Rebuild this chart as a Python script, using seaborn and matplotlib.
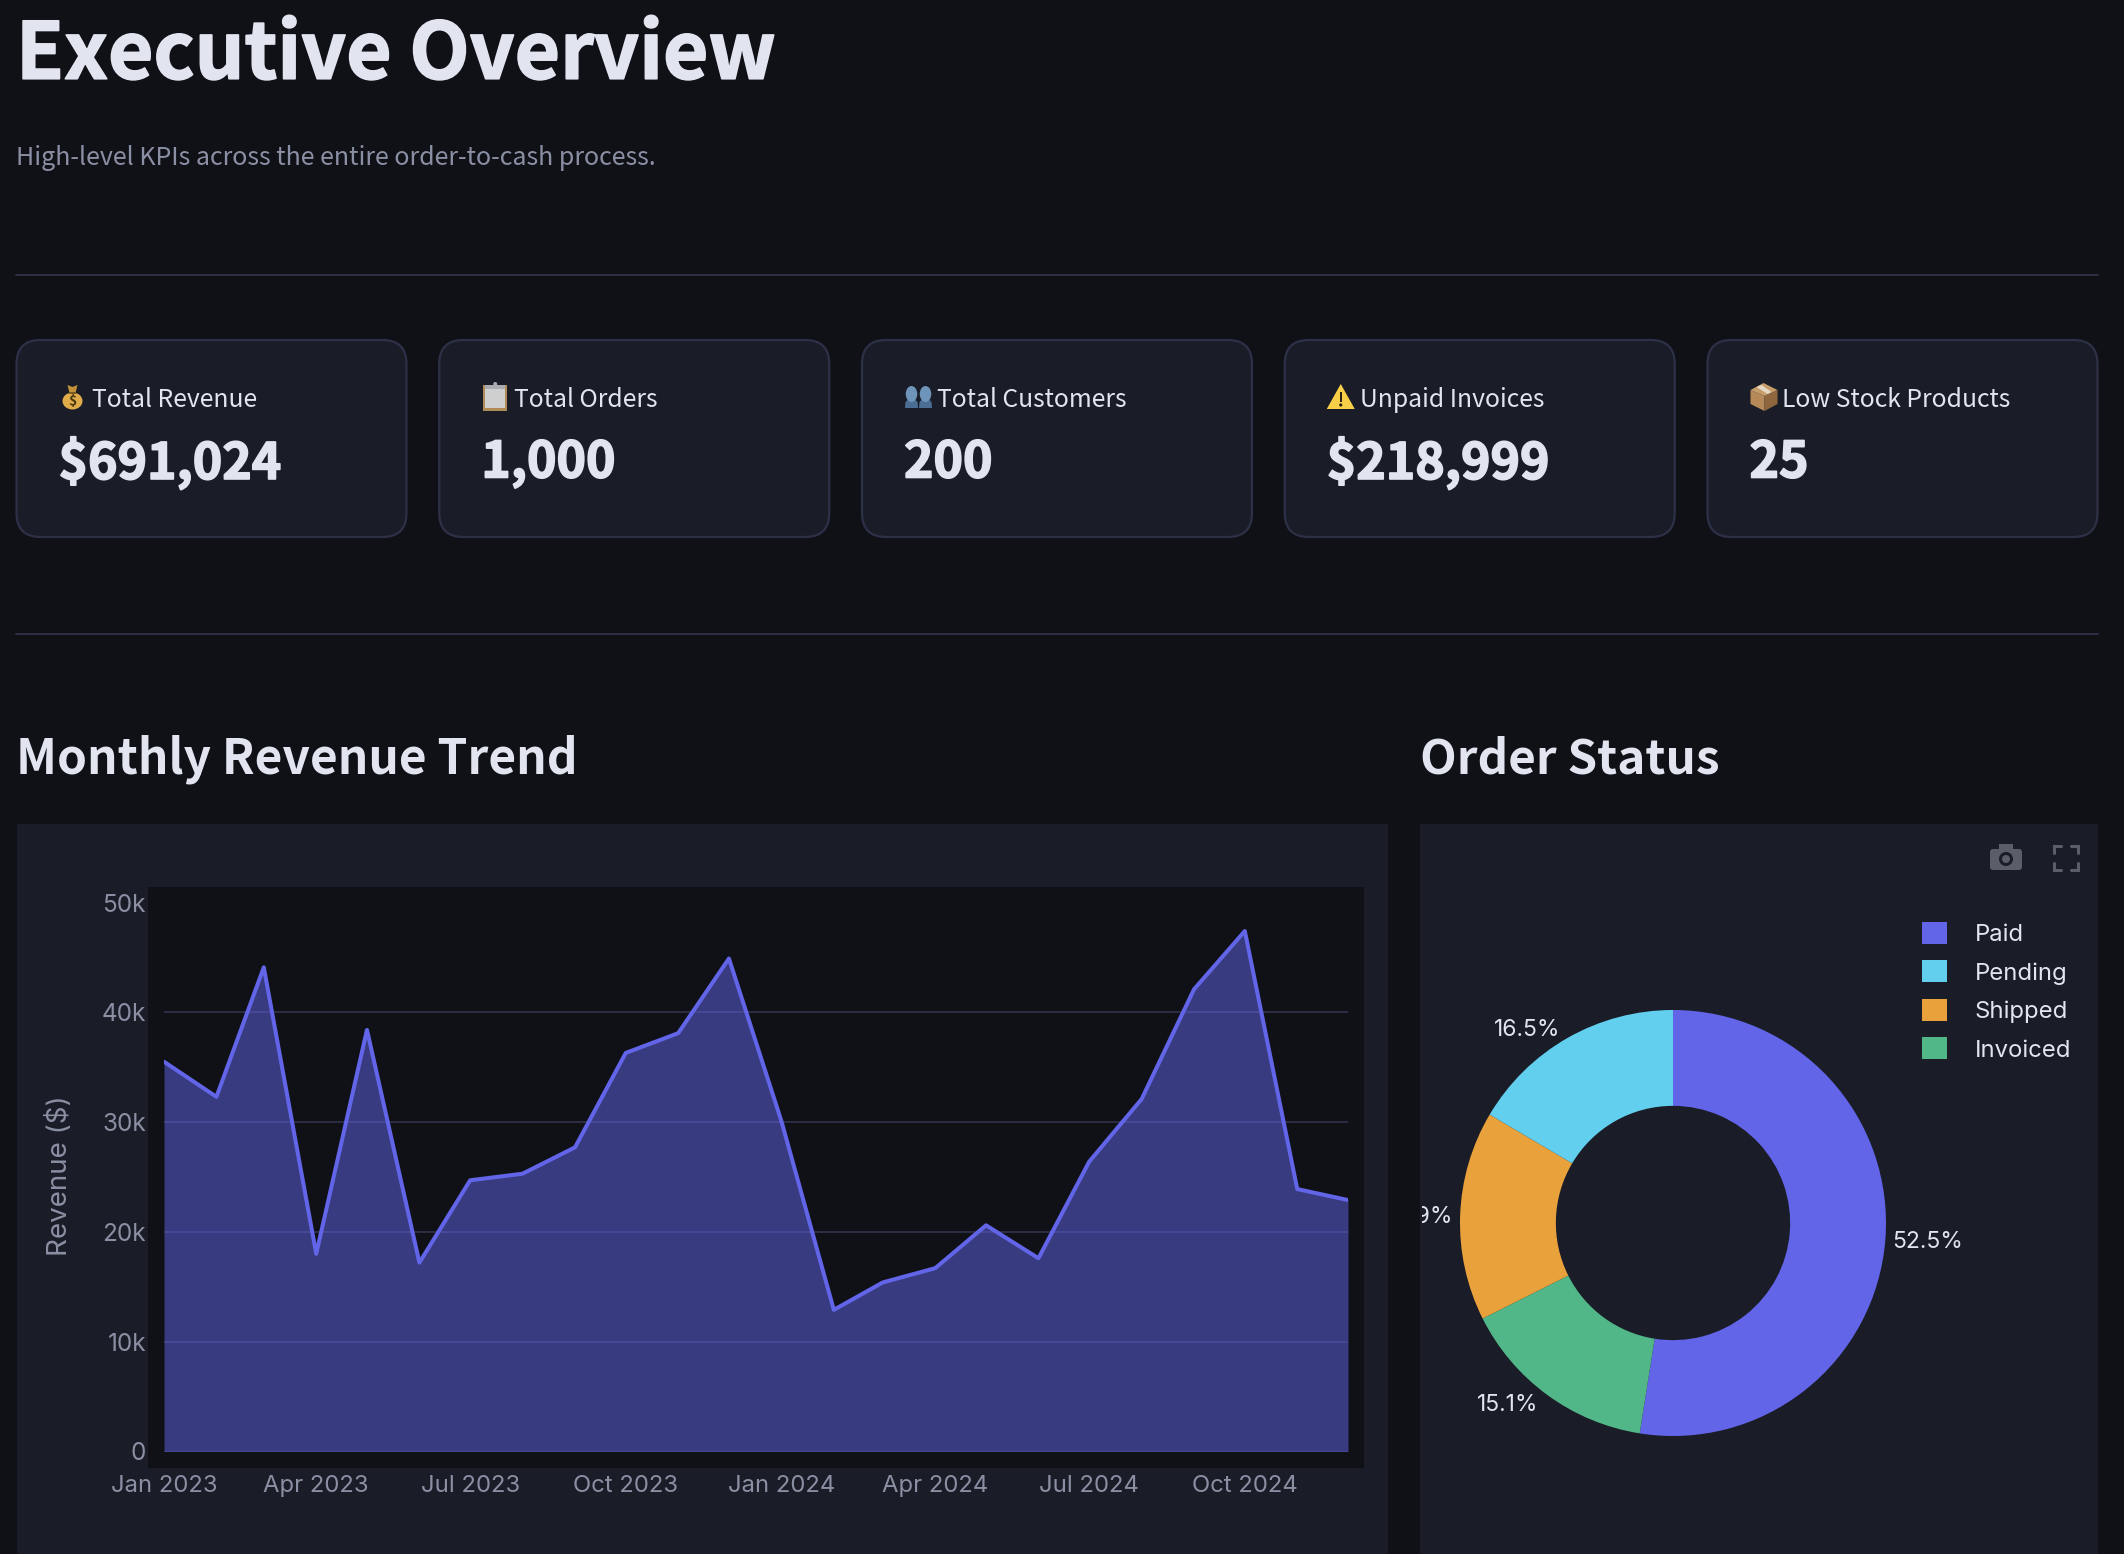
import pandas as pd
import seaborn as sns
import matplotlib.pyplot as plt
import matplotlib.patheffects as pe
from matplotlib.patches import Rectangle, FancyBboxPatch, Circle, Ellipse, Polygon, Patch
from matplotlib.transforms import Bbox
import numpy as np

# Data
months = ['2023-01-01', '2023-02-01', '2023-03-01', '2023-04-01', '2023-05-01', '2023-06-01',
          '2023-07-01', '2023-08-01', '2023-09-01', '2023-10-01', '2023-11-01', '2023-12-01',
          '2024-01-01', '2024-02-01', '2024-03-01', '2024-04-01', '2024-05-01', '2024-06-01',
          '2024-07-01', '2024-08-01', '2024-09-01', '2024-10-01', '2024-11-01', '2024-12-01']
revenue = [35500, 32300, 44100, 18000, 38400, 17200, 24700, 25300, 27700, 36300, 38100, 44900,
           30100, 12900, 15400, 16700, 20600, 17600, 26400, 32100, 42100, 47400, 23900, 22900]
tick_months = ['2023-01-01', '2023-04-01', '2023-07-01', '2023-10-01',
               '2024-01-01', '2024-04-01', '2024-07-01', '2024-10-01']
tick_labels = ['Jan 2023', 'Apr 2023', 'Jul 2023', 'Oct 2023',
               'Jan 2024', 'Apr 2024', 'Jul 2024', 'Oct 2024']
y_ticks = [0, 10000, 20000, 30000, 40000, 50000]
y_labels = ['0', '10k', '20k', '30k', '40k', '50k']

statuses = ['Paid', 'Pending', 'Shipped', 'Invoiced']
status_pct = [52.5, 16.5, 15.9, 15.1]
status_colors = ['#6265e8', '#62cfee', '#e9a23b', '#52b788']

card_labels = ['Total Revenue', 'Total Orders', 'Total Customers', 'Unpaid Invoices', 'Low Stock Products']
card_values = ['$691,024', '1,000', '200', '$218,999', '25']

W, H = 2124, 1554
PAGE = '#0f1117'
PANEL = '#1a1d27'
EDGE = '#2e3047'
TEXT = '#e2e4f0'
MUTED = '#8b8fa3'
LINE = '#6265e8'
HEAD = ['Noto Sans CJK SC', 'DejaVu Sans']

sns.set_theme(style='dark', rc={'figure.facecolor': PAGE, 'axes.facecolor': 'none',
                                'savefig.facecolor': PAGE, 'patch.force_edgecolor': False,
                                'patch.linewidth': 0})
plt.rcParams['font.family'] = ['Inter', 'DejaVu Sans']

fig = plt.figure(figsize=(W / 100, H / 100), dpi=100)

# page layer, works in pixels from the top left
bg = fig.add_axes([0, 0, 1, 1])
bg.set_xlim(0, W)
bg.set_ylim(H, 0)
bg.axis('off')


def box(x0, y0, x1, y1, **kw):
    bg.add_patch(Rectangle((x0, y0), x1 - x0, y1 - y0, **kw))


def round_box(x0, y0, x1, y1, r, **kw):
    bg.add_patch(FancyBboxPatch((x0, y0), x1 - x0, y1 - y0,
                                boxstyle=f'round,pad=0,rounding_size={r}', **kw))


def poly(points, color):
    bg.add_patch(Polygon(points, fc=color))


# little stand-ins for the emoji, there is no colour emoji font here
def icon_bag(x, y):
    poly([(x - 5, y - 12), (x, y - 10), (x + 5, y - 12), (x + 3, y - 4), (x - 3, y - 4)], '#c2913a')
    bg.add_patch(Ellipse((x, y + 4), 20, 17, fc='#e0ac4a'))
    box(x - 3.5, y - 5, x + 3.5, y - 3, fc='#7a5a20')
    bg.text(x, y + 4, '$', fontsize=10, color='#4a3810', ha='center', va='center', family=HEAD, weight='bold')


def icon_clip(x, y):
    box(x - 12, y - 12, x + 12, y + 14, fc='#b08b55')
    box(x - 10, y - 10, x + 10, y + 11, fc='#cfcfcf')
    box(x - 10, y - 12, x + 10, y - 8, fc='#a9abb0')
    bg.add_patch(Circle((x, y - 13), 2, fc='#a9abb0'))


def icon_people(x, y):
    for dx in [-7, 7]:
        poly([(x + dx - 6.5, y + 11), (x + dx - 6, y + 5), (x + dx - 2, y + 1), (x + dx + 2, y + 1),
              (x + dx + 6, y + 5), (x + dx + 6.5, y + 11)], '#4a6d94')
        bg.add_patch(Ellipse((x + dx, y - 3), 11.5, 16, fc='#6f94ba'))


def icon_warn(x, y):
    poly([(x, y - 13), (x + 14, y + 12), (x - 14, y + 12)], '#f9cf4a')
    box(x - 1.2, y - 5, x + 1.2, y + 5, fc='#2a2410')
    bg.add_patch(Circle((x, y + 8), 1.6, fc='#2a2410'))


def icon_crate(x, y):
    poly([(x - 13, y - 7), (x + 1, y - 1), (x + 1, y + 14), (x - 13, y + 7)], '#b58a58')
    poly([(x + 1, y - 1), (x + 14, y - 7), (x + 14, y + 7), (x + 1, y + 14)], '#8f673f')
    poly([(x - 13, y - 7), (x, y - 14), (x + 14, y - 7), (x + 1, y - 1)], '#c59c6a')
    poly([(x - 7, y - 10), (x - 2, y - 12), (x + 8, y - 5), (x + 4, y - 3)], '#e6d9c4')


icons = [icon_bag, icon_clip, icon_people, icon_warn, icon_crate]
icon_dx = [56, 56, 56.5, 56, 56]

# heavier look than the plain bold face
heavy = [pe.withStroke(linewidth=1.2, foreground=TEXT)]

# header
bg.text(16, 56, 'Executive Overview', color=TEXT, fontsize=56.3, weight='bold', family=HEAD, va='center',
        path_effects=heavy)
bg.text(16, 158, 'High-level KPIs across the entire order-to-cash process.', color=MUTED, fontsize=18,
        family=HEAD, va='center')
for yy in [275, 634]:
    bg.plot([16, 2098], [yy, yy], color=EDGE, lw=1.4)

# KPI cards
card_w = 390
card_step = 422.75
for i, (lab, val) in enumerate(zip(card_labels, card_values)):
    x0 = 16.5 + i * card_step
    round_box(x0, 340, x0 + card_w, 537, 24, fc=PANEL, ec=EDGE, lw=1.6)
    icons[i](x0 + icon_dx[i], 397)
    bg.text(x0 + 75, 400, lab, color=TEXT, fontsize=17.8, family=HEAD, va='center')
    bg.text(x0 + 42, 463, val, color=TEXT, fontsize=36, weight='bold', family=HEAD, va='center',
            path_effects=heavy)

# section titles
bg.text(16, 759.5, 'Monthly Revenue Trend', color=TEXT, fontsize=34.5, weight='bold', family=HEAD, va='center')
bg.text(1420, 759.5, 'Order Status', color=TEXT, fontsize=34.3, weight='bold', family=HEAD, va='center')

# chart panels
box(16.5, 824, 1388, H, fc=PANEL)
box(1420, 824, 2098, H, fc=PANEL)
box(148, 887, 1364, 1468, fc=PAGE)

# camera and fullscreen buttons
ICON = '#5b5d68'
round_box(1990, 849, 2022, 870, 3, fc=ICON, ec='none')
box(1999, 844, 2013, 850, fc=ICON)
bg.add_patch(Circle((2006, 859), 7, fc=PANEL))
bg.add_patch(Circle((2006, 859), 4, fc=ICON))
for cx, sx in [(2054, 1), (2078, -1)]:
    for cy, sy in [(846, 1), (870, -1)]:
        bg.plot([cx, cx, cx + sx * 7], [cy + sy * 7, cy, cy], color=ICON, lw=2.2, solid_joinstyle='miter')

# revenue trend
df = pd.DataFrame({'month': pd.to_datetime(months), 'revenue': revenue})
ax = fig.add_axes([164 / W, 1 - 1451.5 / H, (1348 - 164) / W, (1451.5 - 902.5) / H])
ax.fill_between(df['month'], df['revenue'], 0, color=LINE, alpha=0.5, lw=0, zorder=2)
sns.lineplot(data=df, x='month', y='revenue', color=LINE, linewidth=2.9, ax=ax, zorder=3)
ax.set_xlim(df['month'].iloc[0], df['month'].iloc[-1])
ax.set_ylim(y_ticks[0], y_ticks[-1])
ax.set_xticks(pd.to_datetime(tick_months))
ax.set_xticklabels(tick_labels)
ax.set_yticks(y_ticks)
ax.set_yticklabels(y_labels)
ax.set_xlabel('')
ax.set_ylabel('')
ax.tick_params(axis='x', length=0, pad=17, labelsize=17.2, labelcolor=MUTED)
ax.tick_params(axis='y', length=0, pad=13, labelsize=17.5, labelcolor=MUTED)
ax.set_axisbelow(True)
ax.grid(axis='y', color=EDGE, lw=1.3)
ax.grid(axis='x', visible=False)
ax.yaxis.get_gridlines()[-1].set_visible(False)
sns.despine(ax=ax, left=True, bottom=True)
fig.text(59.5 / W, 1 - 1175.5 / H, 'Revenue ($)', color=MUTED, fontsize=20, rotation=90, ha='center', va='center')

# order status donut
pie_order = [0, 3, 2, 1]
cx, cy, rad = 1673, 1223, 213
pie_ax = fig.add_axes([(cx - rad) / W, 1 - (cy + rad) / H, 2 * rad / W, 2 * rad / H])
wedges, _ = pie_ax.pie([status_pct[i] for i in pie_order], colors=[status_colors[i] for i in pie_order],
                       startangle=90, counterclock=False, radius=1,
                       wedgeprops={'width': 0.45, 'linewidth': 0})
pie_ax.set_xlim(-1, 1)
pie_ax.set_ylim(-1, 1)
panel_clip = Bbox([[1422, 0], [W, H]])
for w, i in zip(wedges, pie_order):
    mid = np.deg2rad((w.theta1 + w.theta2) / 2)
    dx, dy = np.cos(mid), np.sin(mid)
    t = pie_ax.text((1.03 + 0.045 * abs(dy)) * dx, 1.05 * dy - 0.006, f'{status_pct[i]}%', color=TEXT, fontsize=16.5,
                    ha='left' if dx > 0 else 'right', va='center', clip_on=True)
    t.set_clip_box(panel_clip)

handles = [Patch(fc=c, ec=c) for c in status_colors]
fig.legend(handles, statuses, loc='upper left', bbox_to_anchor=(1922 / W, 1 - 922 / H), frameon=False,
           fontsize=17.2, labelcolor=TEXT, handlelength=1.04, handleheight=1.04, labelspacing=0.6,
           handletextpad=1.17, borderpad=0, borderaxespad=0)

fig.savefig('out.png', dpi=100)
